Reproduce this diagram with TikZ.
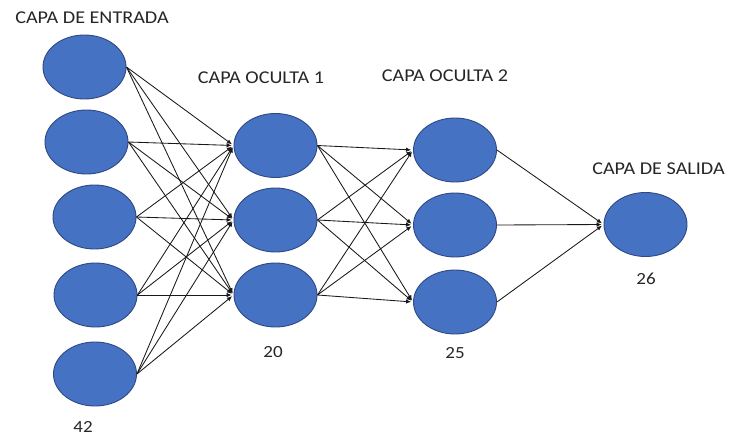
\documentclass[tikz,border=0pt]{standalone}
\usepackage{fontspec}
\setmainfont{Carlito}[FakeStretch=1.12]
\usetikzlibrary{shapes.geometric,arrows.meta}
\definecolor{neuronfill}{RGB}{70,114,196}
\definecolor{neuronedge}{RGB}{47,72,130}
\definecolor{linkcol}{RGB}{25,25,25}
\tikzset{
  neuron/.style={ellipse, draw=neuronedge, line width=0.9pt, fill=neuronfill,
    minimum width=83pt, minimum height=64pt, inner sep=0pt},
  link/.style={draw=linkcol, line width=0.85pt, shorten >=2pt,
    -{Latex[length=5pt,width=4.5pt]}},
  layertitle/.style={font=\fontsize{18}{20}\selectfont, text=black!85, inner sep=0pt},
  count/.style={font=\fontsize{17}{20}\selectfont, text=black!85, inner sep=0pt}
}
\begin{document}
\begin{tikzpicture}[x=1pt,y=-1pt]
  \useasboundingbox[fill=white] (0,0) rectangle (731,437);

  % input layer
  \node[neuron] (i1) at (84.5,67) {};
  \node[neuron] (i2) at (86.5,142) {};
  \node[neuron] (i3) at (94.5,217) {};
  \node[neuron] (i4) at (95.5,295) {};
  \node[neuron] (i5) at (95,374) {};

  % first hidden layer
  \node[neuron] (h1) at (275.5,145.5) {};
  \node[neuron] (h2) at (275.5,220) {};
  \node[neuron] (h3) at (275.5,295) {};

  % second hidden layer
  \node[neuron] (g1) at (455,150) {};
  \node[neuron] (g2) at (455,225) {};
  \node[neuron] (g3) at (455,302) {};

  % output layer
  \node[neuron] (o) at (645.5,224.5) {};

  % connections
  \foreach \a in {i1,i2,i3,i4,i5}
    \foreach \b in {h1,h2,h3}
      \draw[link] (\a.east) -- (\b.west);
  \foreach \a in {h1,h2,h3}
    \foreach \b in {g1,g2,g3}
      \draw[link] (\a.east) -- (\b.west);
  \foreach \a in {g1,g2,g3}
    \draw[link] (\a.east) -- (o.west);

  % layer titles
  \node[layertitle] (t1) at (92,18) {CAPA DE ENTRADA};
  \node[layertitle] (t2) at (261,78) {CAPA OCULTA 1};
  \node[layertitle] (t3) at (445,76) {CAPA OCULTA 2};
  \node[layertitle] (t4) at (658.5,169) {CAPA DE SALIDA};

  % neuron counts
  \node[count] (n1) at (83,427) {42};
  \node[count] (n2) at (273,352) {20};
  \node[count] (n3) at (455,353) {25};
  \node[count] (n4) at (646,279) {26};
\end{tikzpicture}
\end{document}
